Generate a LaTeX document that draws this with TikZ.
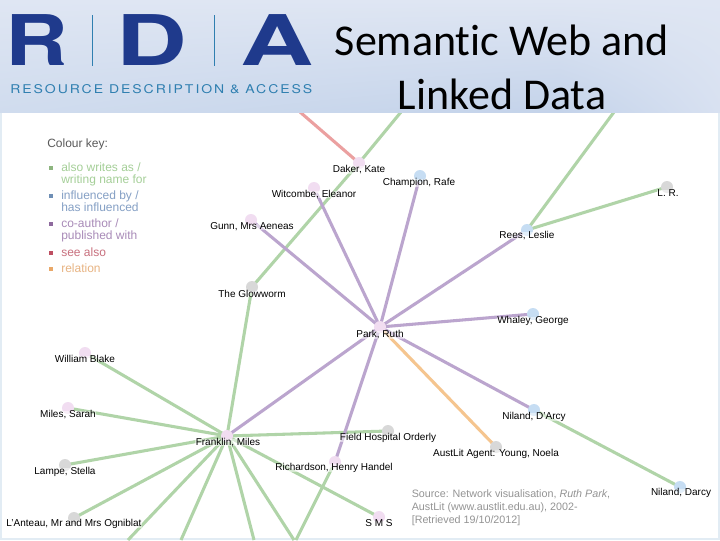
\documentclass[tikz,border=0pt]{standalone}
\usepackage{fontspec}
\usetikzlibrary{shadings}
\setmainfont{Liberation Sans}
\newfontfamily\titlefont[Ligatures=NoCommon]{Carlito}
\newfontfamily\logofont{TeX Gyre Heros}
\definecolor{gedge}{HTML}{B0D4A8}
\definecolor{pedge}{HTML}{BBA5CE}
\definecolor{redge}{HTML}{EBA0A0}
\definecolor{oedge}{HTML}{F5C58F}
\definecolor{pnode}{HTML}{F1DDF1}
\definecolor{bnode}{HTML}{C6DDF3}
\definecolor{gnode}{HTML}{D8D8D8}
\definecolor{rdablue}{HTML}{1F3A8C}
\definecolor{rdateal}{HTML}{2F7FB0}
\definecolor{hdtop}{HTML}{DFE6F3}
\definecolor{hdleft}{HTML}{D0DCEE}
\definecolor{hdmid}{HTML}{C4D3EA}
\definecolor{hdright}{HTML}{D8E1F1}
\definecolor{pagerim}{HTML}{E2ECF4}
\definecolor{keyg}{HTML}{A5CF98}
\definecolor{keyb}{HTML}{85A0C5}
\definecolor{keyp}{HTML}{A98BB8}
\definecolor{keyr}{HTML}{C8707E}
\definecolor{keyo}{HTML}{E8B483}
\definecolor{boxg}{HTML}{8DB57F}
\definecolor{boxb}{HTML}{6F8FB5}
\definecolor{boxp}{HTML}{8E6A9E}
\definecolor{boxr}{HTML}{BE4F62}
\definecolor{boxo}{HTML}{E9A868}
\tikzset{
  x=0.75pt,y=-0.75pt,
  green edge/.style={draw=gedge,line width=2.3pt},
  purple edge/.style={draw=pedge,line width=2.3pt},
  red edge/.style={draw=redge,line width=2.3pt},
  orange edge/.style={draw=oedge,line width=2.3pt},
  disc/.style={circle,minimum size=9pt,inner sep=0pt,fill=#1},
  lbl/.style={font=\fontsize{7.5}{9}\selectfont,text=black,inner xsep=0.5pt,inner ysep=-0.5pt,fill=white,fill opacity=0.5,text opacity=1},
  keytext/.style={font=\fontsize{9}{8.7}\selectfont,anchor=north west,align=left,inner sep=0pt},
  keybox/.style={minimum size=3.5pt,inner sep=0pt},
  logo/.style={anchor=south west,inner sep=0pt,text=rdablue},
  titletext/.style={font=\titlefont\fontsize{33}{40.5}\selectfont,align=center,text=black,inner sep=0pt},
}
\begin{document}
\begin{tikzpicture}
\useasboundingbox (0,0) rectangle (720,540);
% page
\fill[white] (0,0) rectangle (720,540);
\fill[pagerim] (0,112) rectangle (1.5,540);
\fill[pagerim] (718,112) rectangle (720,540);
\fill[pagerim] (0,538) rectangle (720,540);
% graph coordinates
\coordinate (topR) at (300,112);
\coordinate (topG) at (401,112);
\coordinate (topG2) at (614,112);
\coordinate (b1) at (128,540);
\coordinate (b2) at (181,540);
\coordinate (b3) at (254,540);
\coordinate (b4) at (294,540);
\coordinate (b5) at (296,540);
\coordinate (daker) at (359,163);
\coordinate (witcombe) at (314,188);
\coordinate (champion) at (420,176);
\coordinate (lr) at (667,187);
\coordinate (gunn) at (251,220);
\coordinate (rees) at (527,230);
\coordinate (glow) at (252,287);
\coordinate (park) at (380,327);
\coordinate (whaley) at (533,314);
\coordinate (blake) at (85,353);
\coordinate (miles) at (68,408);
\coordinate (dniland) at (534,410);
\coordinate (franklin) at (227,436);
\coordinate (field) at (388,431);
\coordinate (austlit) at (496,447);
\coordinate (lampe) at (65,465);
\coordinate (richardson) at (335,462);
\coordinate (darcy) at (680,487);
\coordinate (oantau) at (74,518);
\coordinate (sms) at (379,517);
% edges
\draw[red edge] (topR) -- (daker);
\draw[green edge] (topG) -- (daker);
\draw[green edge] (daker) -- (glow);
\draw[green edge] (glow) -- (franklin);
\draw[green edge] (topG2) -- (rees);
\draw[green edge] (rees) -- (lr);
\draw[green edge] (dniland) -- (darcy);
\foreach \t in {blake,miles,lampe,oantau,b1,b2,b3,b4,field,sms}
  \draw[green edge] (franklin) -- (\t);
\draw[green edge] (richardson) -- (b5);
\foreach \t in {witcombe,gunn,champion,rees,whaley,dniland,franklin,richardson}
  \draw[purple edge] (park) -- (\t);
\draw[orange edge] (park) -- (austlit);
% discs
\foreach \n in {daker,witcombe,gunn,park,blake,miles,franklin,richardson,sms}
  \node[disc=pnode] at (\n) {};
\foreach \n in {champion,rees,whaley,dniland,darcy}
  \node[disc=bnode] at (\n) {};
\foreach \n in {lr,glow,field,austlit,lampe,oantau}
  \node[disc=gnode] at (\n) {};
% labels
\node[lbl] (l1) at (359,170) {Daker, Kate};
\node[lbl] (l2) at (314,194.5) {Witcombe, Eleanor};
\node[lbl] (l3) at (419,182.5) {Champion, Rafe};
\node[lbl] (l4) at (668,193) {L. R.};
\node[lbl] (l5) at (252,227) {Gunn, Mrs Aeneas};
\node[lbl] (l6) at (527,235.5) {Rees, Leslie};
\node[lbl] (l7) at (252,294) {The Glowworm};
\node[lbl] (l8) at (380,335) {Park, Ruth};
\node[lbl] (l9) at (533,320.5) {Whaley, George};
\node[lbl] (l10) at (85,359) {William Blake};
\node[lbl] (l11) at (68,415) {Miles, Sarah};
\node[lbl] (l12) at (534,416.5) {Niland, D'Arcy};
\node[lbl] (l13) at (228,442.5) {Franklin, Miles};
\node[lbl] (l14) at (388,438) {Field Hospital Orderly};
\node[lbl] (l15) at (496,453.5) {AustLit Agent: Young, Noela};
\node[lbl] (l16) at (65,472) {Lampe, Stella};
\node[lbl] (l17) at (334,468) {Richardson, Henry Handel};
\node[lbl] (l18) at (681,493) {Niland, Darcy};
\node[lbl] (l19) at (74,524) {L'Anteau, Mr and Mrs Ogniblat};
\node[lbl] (l20) at (379,523.5) {S M S};
% colour key
\node[anchor=north west,inner sep=0pt,font=\fontsize{9}{10}\selectfont,text=black!65] (keyhead) at (47,139) {Colour key:};
\node[keybox,fill=boxg] (k1) at (51,168) {};
\node[keytext,text=keyg] (t1) at (61,163) {also writes as /\\writing name for};
\node[keybox,fill=boxb] (k2) at (51,196) {};
\node[keytext,text=keyb] (t2) at (61,191) {influenced by /\\has influenced};
\node[keybox,fill=boxp] (k3) at (51,224) {};
\node[keytext,text=keyp] (t3) at (61,219) {co-author /\\published with};
\node[keybox,fill=boxr] (k4) at (51,253) {};
\node[keytext,text=keyr] (t4) at (61,248) {see also};
\node[keybox,fill=boxo] (k5) at (51,269) {};
\node[keytext,text=keyo] (t5) at (61,264) {relation};
% source
\node[anchor=north west,inner sep=0pt,align=left,text=black!42,font=\fontsize{8.05}{9.75}\selectfont] (src) at (411.5,489.5) {Source: Network visualisation, \textit{Ruth Park},\\AustLit (www.austlit.edu.au), 2002-\\{}[Retrieved 19/10/2012]};
% header
\shade[upper left=hdtop,upper right=hdtop,lower left=hdleft,lower right=hdmid] (0,0) rectangle (560,112);
\shade[upper left=hdtop,upper right=hdtop,lower left=hdmid,lower right=hdright] (560,0) rectangle (720,112);
\node[logo] (logoR) at (5.5,66) {\resizebox{47pt}{38.2pt}{\logofont\bfseries R}};
\node[logo] (logoD) at (116.4,66) {\resizebox{53pt}{38.2pt}{\logofont\bfseries D}};
\node[logo] (logoA) at (239.8,66) {\resizebox{55pt}{38.2pt}{\logofont\bfseries A}};
\fill[rdateal] (91.6,15) rectangle (93,66);
\fill[rdateal] (213.6,15) rectangle (215,66);
\node[logo,text=rdateal] (logosub) at (10,94) {\resizebox{226.5pt}{6.75pt}{\logofont\addfontfeature{LetterSpace=14}RESOURCE DESCRIPTION \& ACCESS}};
\node[titletext] (title) at (502,67) {Semantic Web and\\Linked Data};
\end{tikzpicture}
\end{document}
